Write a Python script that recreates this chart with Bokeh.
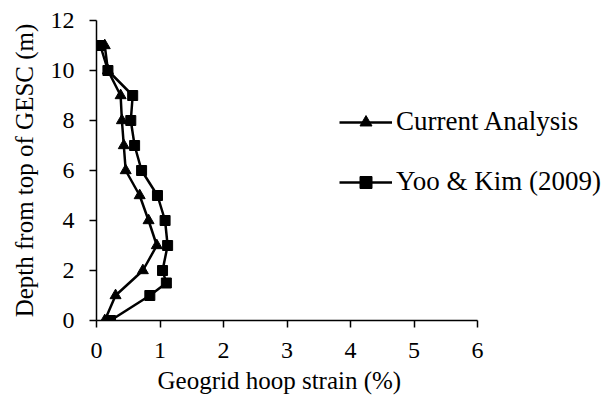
from bokeh.plotting import figure
from bokeh.models import Range1d, Legend, LegendItem, ColumnDataSource, Title
from bokeh.embed import file_html
from bokeh.resources import INLINE

# Hoop strain (%) against depth (m) for each series
current_depth = [11, 10, 9, 8, 7, 6, 5, 4, 3, 2, 1, 0]
current_strain = [0.13, 0.18, 0.38, 0.40, 0.43, 0.46, 0.68, 0.82, 0.95, 0.73, 0.30, 0.13]

yoo_depth = [11, 10, 9, 8, 7, 6, 5, 4, 3, 2, 1.5, 1, 0]
yoo_strain = [0.06, 0.18, 0.57, 0.54, 0.60, 0.71, 0.96, 1.08, 1.12, 1.04, 1.10, 0.84, 0.22]

x_ticks = [0, 1, 2, 3, 4, 5, 6]
y_ticks = [0, 2, 4, 6, 8, 10, 12]

FONT = "Liberation Serif"

# The frame runs to the right edge so the legend has room; the x axis
# itself is bounded to 0..6.
PX_PER_UNIT = 381 / 6
FRAME_W = 517

p = figure(
    width=613, height=405,
    frame_width=FRAME_W, frame_height=300,
    min_border_left=96, min_border_right=0,
    min_border_top=20, min_border_bottom=85,
    x_range=Range1d(0, FRAME_W / PX_PER_UNIT), y_range=Range1d(0, 12),
    output_backend="svg", toolbar_location=None,
)
p.outline_line_color = None
p.grid.visible = False

for ax in (p.xaxis[0], p.yaxis[0]):
    ax.axis_line_color = "black"
    ax.axis_line_width = 1.5
    ax.major_tick_line_color = "black"
    ax.major_tick_line_width = 1.5
    ax.major_tick_in = 0
    ax.major_tick_out = 7
    ax.minor_tick_line_color = None
    ax.major_label_text_font = FONT
    ax.major_label_text_font_size = "24px"
    ax.major_label_text_color = "black"
    ax.axis_label_text_font = FONT
    ax.axis_label_text_font_size = "25px"
    ax.axis_label_text_font_style = "normal"
    ax.axis_label_text_color = "black"

p.xaxis.ticker = x_ticks
p.yaxis.ticker = y_ticks
p.xaxis.bounds = (0, 6)
p.yaxis.bounds = (0, 12)
p.yaxis.axis_label = "Depth from top of GESC (m)"
p.xaxis.major_label_standoff = 15
p.yaxis.major_label_standoff = 15
p.yaxis.axis_label_standoff = 10

# x-axis title centred under the 0..6 span of the axis
p.add_layout(Title(text="Geogrid hoop strain (%)", align="left", offset=61,
                   text_font=FONT, text_font_size="25px",
                   text_font_style="normal", text_color="black",
                   standoff=8), "below")

src_cur = ColumnDataSource(dict(x=current_strain, y=current_depth))
src_yoo = ColumnDataSource(dict(x=yoo_strain, y=yoo_depth))

l1 = p.line("x", "y", source=src_cur, line_color="black", line_width=2.5)
m1 = p.scatter("x", "y", source=src_cur, marker="triangle", size=11,
               fill_color="black", line_color="black")
l2 = p.line("x", "y", source=src_yoo, line_color="black", line_width=2.5)
m2 = p.scatter("x", "y", source=src_yoo, marker="square", size=10,
               fill_color="black", line_color="black")

legend = Legend(
    items=[
        LegendItem(label="Current Analysis", renderers=[l1, m1]),
        LegendItem(label="Yoo & Kim (2009)", renderers=[l2, m2]),
    ],
    location=(243, 123),
    orientation="vertical",
    border_line_color=None,
    background_fill_alpha=0,
    label_text_font=FONT,
    label_text_font_size="27px",
    label_text_color="black",
    glyph_width=53,
    glyph_height=30,
    label_height=30,
    label_standoff=4,
    spacing=29,
    padding=0,
    margin=0,
)
p.add_layout(legend, "center")

open("out.html", "w").write(file_html(p, INLINE))
